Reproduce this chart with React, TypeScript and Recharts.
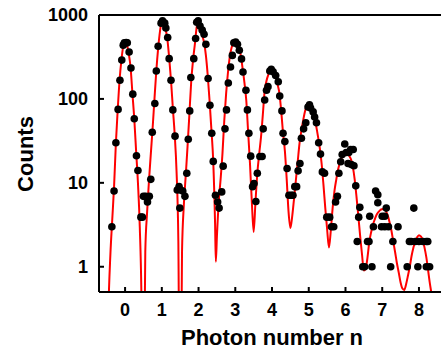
import React from "react";
import {
  ComposedChart,
  Line,
  Scatter,
  XAxis,
  YAxis,
  ReferenceLine,
} from "recharts";

// fitted curve (photon number n -> counts)
const curveN = [
  -0.5, -0.45, -0.4, -0.35, -0.3, -0.25, -0.2, -0.15, -0.1, -0.05, 0, 0.05, 0.1, 0.15, 0.2, 0.25, 0.3, 0.35, 0.4, 0.45, 0.48,
  0.51, 0.55, 0.6, 0.65, 0.7, 0.75, 0.8, 0.85, 0.9, 0.95, 1.0, 1.05, 1.1, 1.15, 1.2, 1.25, 1.3, 1.35, 1.4, 1.45, 1.49,
  1.51, 1.55, 1.6, 1.65, 1.7, 1.75, 1.8, 1.85, 1.9, 1.95, 2.0, 2.05, 2.1, 2.15, 2.2, 2.25, 2.3, 2.35, 2.4, 2.45, 2.47,
  2.5, 2.55, 2.6, 2.65, 2.7, 2.75, 2.8, 2.85, 2.9, 2.95, 3.0, 3.05, 3.1, 3.15, 3.2, 3.25, 3.3, 3.35, 3.4, 3.45, 3.5,
  3.55, 3.6, 3.65, 3.7, 3.75, 3.8, 3.85, 3.9, 3.95, 4.0, 4.05, 4.1, 4.15, 4.2, 4.25, 4.3, 4.35, 4.4, 4.45, 4.5,
  4.55, 4.6, 4.65, 4.7, 4.75, 4.8, 4.85, 4.9, 4.95, 5.0, 5.05, 5.1, 5.15, 5.2, 5.25, 5.3, 5.35, 5.4, 5.45, 5.5, 5.55,
  5.6, 5.65, 5.7, 5.75, 5.8, 5.85, 5.9, 5.95, 6.0, 6.05, 6.1, 6.15, 6.2, 6.25, 6.3, 6.35, 6.4, 6.45, 6.5, 6.55,
  6.6, 6.65, 6.7, 6.75, 6.8, 6.85, 6.9, 6.95, 7.0, 7.05, 7.1, 7.15, 7.2, 7.25, 7.3, 7.35, 7.4, 7.45, 7.5, 7.55, 7.6,
  7.65, 7.7, 7.75, 7.8, 7.85, 7.9, 7.95, 8.0, 8.05, 8.1, 8.15, 8.2, 8.25, 8.3, 8.35, 8.4,
];
const curveCounts = [
  0.02, 0.35, 1.4, 3.6, 9, 30, 75, 167, 290, 420, 470, 440, 345, 236, 116, 58, 24, 10, 3, 0.3, 0.01,
  0.02, 1.5, 4.5, 10.5, 22, 45, 100, 215, 400, 640, 830, 790, 680, 520, 310, 167, 78, 38, 14, 2, 0.01,
  0.01, 1.5, 5.5, 12, 27, 65, 160, 290, 450, 720, 840, 700, 570, 470, 330, 190, 95, 43, 18, 3.2, 1.15,
  2.3, 6, 11, 22, 55, 115, 205, 316, 410, 460, 475, 450, 410, 330, 230, 155, 95, 40, 17, 6, 2.6,
  6, 13, 22, 35, 65, 125, 165, 195, 218, 224, 215, 190, 150, 118, 72, 39, 24, 11, 4.5, 2.9,
  4, 6.5, 10.8, 18, 30, 42, 56, 72, 82, 84, 82, 74, 62, 48, 36, 26, 17, 9.5, 5, 2.8, 1.7,
  2.7, 5, 8, 11, 14.5, 17.5, 20, 21.5, 22.4, 22.4, 21, 19, 15.5, 11, 6.8, 4, 2.3, 1.4, 0.9, 0.95,
  1.3, 2, 2.6, 3.2, 3.7, 4.2, 4.5, 4.75, 4.85, 4.9, 4.6, 4.1, 3.4, 2.7, 2.0, 1.5, 1.1, 0.85, 0.65, 0.55, 0.53,
  0.62, 0.78, 1.0, 1.35, 1.7, 2.0, 2.25, 2.38, 2.3, 2.1, 1.7, 1.3, 0.9, 0.62, 0.45, 0.3,
];

// measured points
const dotN = [
  -0.36, -0.3, -0.25, -0.19, -0.14, -0.09, -0.05, -0.02, 0.03, 0.06, 0.11, 0.16, 0.21, 0.25, 0.31, 0.35, 0.43, 0.47,
  0.5, 0.56, 0.61, 0.66, 0.7,
  0.74, 0.81, 0.85, 0.9, 0.98, 1.02, 1.08, 1.11, 1.16, 1.2, 1.25, 1.3, 1.36, 1.42, 1.47, 1.49, 1.51, 1.57, 1.63, 1.68,
  1.72, 1.76, 1.79, 1.87, 1.92, 1.95, 1.99, 2.04, 2.1, 2.15, 2.2, 2.26, 2.31, 2.36, 2.4, 2.46, 2.52, 2.56, 2.63, 2.67,
  2.72, 2.76, 2.81, 2.87, 2.92, 2.96, 3.01, 3.06, 3.11, 3.17, 3.21, 3.29, 3.33, 3.37, 3.42, 3.47, 3.51, 3.56, 3.6,
  3.67, 3.73,
  3.76, 3.8, 3.85, 3.89, 3.94, 3.98, 4.03, 4.1, 4.17, 4.21, 4.27, 4.3, 4.35, 4.41, 4.46, 4.52, 4.57, 4.62, 4.67,
  4.71, 4.76,
  4.8, 4.86, 4.92, 4.98, 5.02, 5.05, 5.12, 5.16, 5.21, 5.27, 5.32, 5.37, 5.43, 5.49, 5.57, 5.62, 5.68, 5.73, 5.78,
  5.82, 5.87, 5.91,
  5.98, 6.02, 6.09, 6.14, 6.21, 6.07, 6.16, 6.23, 6.28, 6.39, 6.36, 6.32, 6.47, 6.52, 6.6, 6.64, 6.66, 6.72, 6.76,
  6.82, 6.88, 6.88,
  6.98, 7.0, 7.07, 7.11, 7.07, 7.17, 7.23, 7.29, 7.43, 7.68, 7.74, 7.86,
  7.79, 7.9, 8.0, 8.11, 8.2, 8.24, 7.97, 8.2, 8.29,
];
const dotCounts = [
  3, 8, 30, 75, 167, 290, 437, 466, 470, 466, 362, 234, 114, 58, 21, 14, 3.9, 3.9,
  6.9, 6.9, 5.9, 6.9, 11,
  40, 88, 215, 425, 800, 850, 800, 700, 540, 302, 167, 74, 36, 8.2, 9, 5, 8.2, 8, 6.9, 13,
  33, 72, 180, 302, 525, 820, 850, 740, 660, 590, 447, 175, 84, 39, 18, 7.1, 5.9, 5, 7.8, 15.8,
  44, 74, 155, 240, 330, 466, 475, 447, 380, 300, 209, 127, 74, 39, 20.8, 9, 9.8, 6, 13,
  20.6, 20.6,
  44, 97, 127, 140, 215, 225, 210, 190, 160, 108, 72, 39, 31, 14.8, 7.1, 7.1, 7.1, 9, 9,
  13.9, 17,
  34, 44, 52, 80, 85, 78, 70, 61, 52, 30, 22, 13.5, 13, 3.9, 3.9, 3, 3, 5.9, 6.9,
  13, 17.8, 21.8,
  29, 23, 23, 25, 25, 17, 16.5, 16, 9.2, 5.1, 3.9, 2, 1, 1, 2, 2, 4, 1, 3,
  8, 7.2, 5.8,
  3, 4, 4, 5, 3, 3, 1, 2, 3, 1, 2, 5,
  2, 2, 2, 2, 2, 2, 1, 1, 1,
];

const xTicks = [0, 1, 2, 3, 4, 5, 6, 7, 8];
const yTicks = [1, 10, 100, 1000];

const curveData = curveN.map((n, i) => ({ n, counts: curveCounts[i] }));
const dotData = dotN.map((n, i) => ({ n, counts: dotCounts[i] }));

const font = "'Liberation Sans', Arial, Helvetica, sans-serif";
const tickStyle = { fill: "#000", fontSize: 18, fontWeight: "bold", fontFamily: font };

const Dot = (props: any) => <circle cx={props.cx} cy={props.cy} r={3.8} fill="#000" />;

export default function App() {
  return (
    <div style={{ position: "absolute", left: 0, top: 0, width: 441, height: 352, background: "#fff" }}>
      <ComposedChart
        width={441}
        height={352}
        margin={{ top: 15, right: 0, bottom: 30, left: 39 }}
      >
        <XAxis
          type="number"
          dataKey="n"
          domain={[-0.71, 8.6]}
          ticks={xTicks}
          allowDataOverflow
          height={30}
          tickSize={-5}
          tickMargin={16}
          tick={tickStyle}
          axisLine={{ stroke: "#000", strokeWidth: 2 }}
          tickLine={{ stroke: "#000", strokeWidth: 2 }}
        />
        <YAxis
          type="number"
          dataKey="counts"
          scale="log"
          domain={[0.5, 1000]}
          ticks={yTicks}
          allowDataOverflow
          width={60}
          tickSize={-5}
          tickMargin={16}
          tick={tickStyle}
          axisLine={{ stroke: "#000", strokeWidth: 2 }}
          tickLine={{ stroke: "#000", strokeWidth: 2 }}
        />
        <ReferenceLine y={1000} stroke="#000" strokeWidth={2} ifOverflow="visible" />
        <Line
          data={curveData}
          dataKey="counts"
          type="monotone"
          stroke="#ff0000"
          strokeWidth={2}
          dot={false}
          activeDot={false}
          isAnimationActive={false}
        />
        <Scatter data={dotData} dataKey="counts" shape={Dot} isAnimationActive={false} />
      </ComposedChart>
      <svg width={441} height={352} style={{ position: "absolute", left: 0, top: 0, pointerEvents: "none" }}>
        <text
          x={272}
          y={345}
          textAnchor="middle"
          fontFamily={font}
          fontWeight="bold"
          fontSize={22}
          fill="#000"
        >
          Photon number n
        </text>
        <text
          x={33}
          y={154}
          textAnchor="middle"
          transform="rotate(-90 33 154)"
          fontFamily={font}
          fontWeight="bold"
          fontSize={22}
          fill="#000"
        >
          Counts
        </text>
      </svg>
    </div>
  );
}
